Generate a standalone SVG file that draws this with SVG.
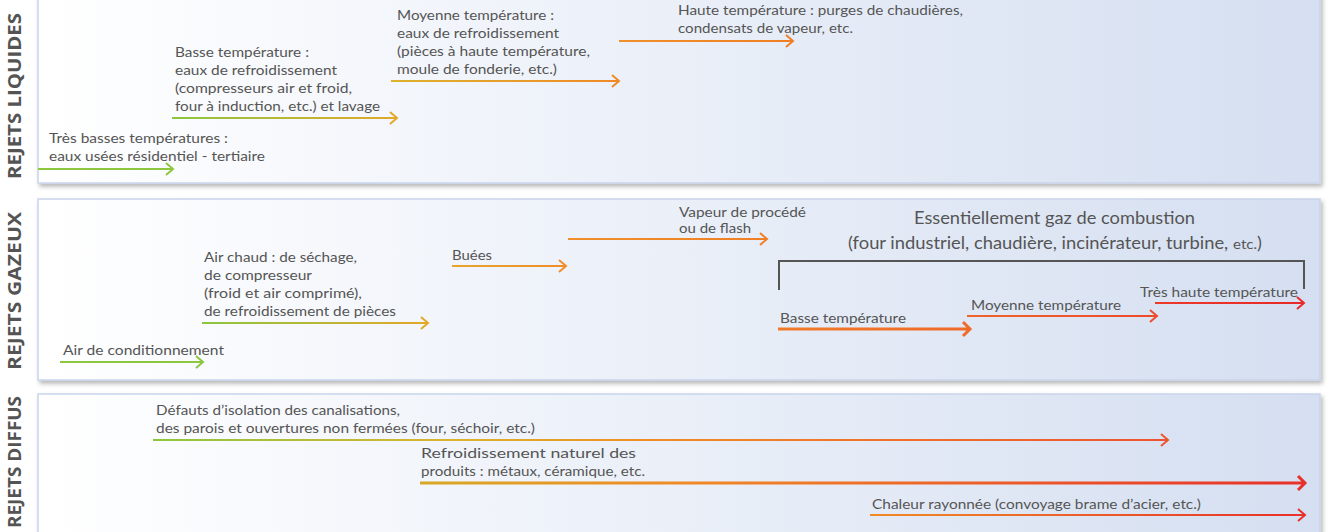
<svg xmlns="http://www.w3.org/2000/svg" width="1328" height="532" viewBox="0 0 1328 532">
<defs>
<linearGradient id="panelFill" x1="0" y1="0" x2="1" y2="0">
<stop offset="0" stop-color="#ffffff"/>
<stop offset="1" stop-color="#d5dff1"/>
</linearGradient>
<filter id="shadow" x="-2%" y="-5%" width="104%" height="115%">
<feDropShadow dx="2" dy="3" stdDeviation="2" flood-color="#000" flood-opacity="0.28"/>
</filter>
<linearGradient id="gG" x1="0" y1="0" x2="1" y2="0"><stop offset="0" stop-color="#8dc63f"/><stop offset="1" stop-color="#8dc63f"/></linearGradient>
<linearGradient id="gGY" x1="0" y1="0" x2="1" y2="0"><stop offset="0" stop-color="#8dc63f"/><stop offset="1" stop-color="#e3a82a"/></linearGradient>
<linearGradient id="gYO" x1="0" y1="0" x2="1" y2="0"><stop offset="0" stop-color="#dcb22e"/><stop offset="1" stop-color="#f08a26"/></linearGradient>
<linearGradient id="gO" x1="0" y1="0" x2="1" y2="0"><stop offset="0" stop-color="#f0902a"/><stop offset="1" stop-color="#f07e24"/></linearGradient>
<linearGradient id="gYO2" x1="0" y1="0" x2="1" y2="0"><stop offset="0" stop-color="#e6a52e"/><stop offset="1" stop-color="#f08d28"/></linearGradient>
<linearGradient id="gOR1" x1="0" y1="0" x2="1" y2="0"><stop offset="0" stop-color="#f07a28"/><stop offset="1" stop-color="#f06a2a"/></linearGradient>
<linearGradient id="gOR2" x1="0" y1="0" x2="1" y2="0"><stop offset="0" stop-color="#f0642a"/><stop offset="1" stop-color="#ee4a2c"/></linearGradient>
<linearGradient id="gR" x1="0" y1="0" x2="1" y2="0"><stop offset="0" stop-color="#ec3a2a"/><stop offset="1" stop-color="#e8282a"/></linearGradient>
<linearGradient id="gD1" x1="0" y1="0" x2="1" y2="0"><stop offset="0" stop-color="#8dc63f"/><stop offset="0.3" stop-color="#dcb22e"/><stop offset="0.5" stop-color="#f08a26"/><stop offset="1" stop-color="#ee5430"/></linearGradient>
<linearGradient id="gD2" x1="0" y1="0" x2="1" y2="0"><stop offset="0" stop-color="#d8a824"/><stop offset="0.3" stop-color="#f08a26"/><stop offset="1" stop-color="#e8302a"/></linearGradient>
<linearGradient id="gD3" x1="0" y1="0" x2="1" y2="0"><stop offset="0" stop-color="#f08a26"/><stop offset="1" stop-color="#e8302a"/></linearGradient>
</defs>
<style>
.panel{fill:url(#panelFill);stroke:#c9d5ec;stroke-width:1.5;filter:url(#shadow)}
.side{font-family:"Open Sans","Liberation Sans",sans-serif;font-weight:bold;font-size:17px;fill:#545454;text-anchor:middle}
.t{font-family:Lato,"Open Sans","Liberation Sans",sans-serif;font-size:14px;fill:#555555}
.h{font-family:Lato,"Open Sans","Liberation Sans",sans-serif;font-size:17px;fill:#555555}
.a{fill:none;stroke-width:2;stroke-linecap:butt;stroke-linejoin:miter}
.a3{stroke-width:3}
.br{fill:none;stroke:#555555;stroke-width:2}
</style>

<rect width="1328" height="532" fill="#ffffff"/>

<g id="panel-liquides">
<rect class="panel" x="38" y="-6" width="1282" height="189"/>
<text class="side" transform="translate(21,96) rotate(-90)" textLength="166" lengthAdjust="spacingAndGlyphs">REJETS LIQUIDES</text>
</g>
<g id="panel-gazeux">
<rect class="panel" x="38" y="199" width="1282" height="181"/>
<text class="side" transform="translate(21,291) rotate(-90)" textLength="158" lengthAdjust="spacingAndGlyphs">REJETS GAZEUX</text>
</g>
<g id="panel-diffus">
<rect class="panel" x="38" y="394" width="1282" height="150"/>
<text class="side" transform="translate(21,462) rotate(-90)" textLength="132" lengthAdjust="spacingAndGlyphs">REJETS DIFFUS</text>
</g>

<g id="n-tres-basses">
<text class="t" x="49" y="143" textLength="179" lengthAdjust="spacingAndGlyphs">Très basses températures :</text>
<text class="t" x="49" y="161" textLength="216" lengthAdjust="spacingAndGlyphs">eaux usées résidentiel - tertiaire</text>
</g>
<g id="n-basse-liq">
<text class="t" x="175" y="57" textLength="134" lengthAdjust="spacingAndGlyphs">Basse température :</text>
<text class="t" x="175" y="75" textLength="162" lengthAdjust="spacingAndGlyphs">eaux de refroidissement</text>
<text class="t" x="175" y="93" textLength="177" lengthAdjust="spacingAndGlyphs">(compresseurs air et froid,</text>
<text class="t" x="175" y="111" textLength="205" lengthAdjust="spacingAndGlyphs">four à induction, etc.) et lavage</text>
</g>
<g id="n-moyenne-liq">
<text class="t" x="397" y="20" textLength="157" lengthAdjust="spacingAndGlyphs">Moyenne température :</text>
<text class="t" x="397" y="38" textLength="162" lengthAdjust="spacingAndGlyphs">eaux de refroidissement</text>
<text class="t" x="397" y="56" textLength="193" lengthAdjust="spacingAndGlyphs">(pièces à haute température,</text>
<text class="t" x="397" y="74" textLength="160" lengthAdjust="spacingAndGlyphs">moule de fonderie, etc.)</text>
</g>
<g id="n-haute-liq">
<text class="t" x="678" y="15" textLength="285" lengthAdjust="spacingAndGlyphs">Haute température : purges de chaudières,</text>
<text class="t" x="678" y="33" textLength="175" lengthAdjust="spacingAndGlyphs">condensats de vapeur, etc.</text>
</g>

<g id="n-air-cond">
<text class="t" x="63" y="355" textLength="161" lengthAdjust="spacingAndGlyphs">Air de conditionnement</text>
</g>
<g id="n-air-chaud">
<text class="t" x="204" y="262" textLength="153" lengthAdjust="spacingAndGlyphs">Air chaud : de séchage,</text>
<text class="t" x="204" y="280" textLength="108" lengthAdjust="spacingAndGlyphs">de compresseur</text>
<text class="t" x="204" y="298" textLength="158" lengthAdjust="spacingAndGlyphs">(froid et air comprimé),</text>
<text class="t" x="204" y="316" textLength="192" lengthAdjust="spacingAndGlyphs">de refroidissement de pièces</text>
</g>
<g id="n-buees">
<text class="t" x="452" y="260" textLength="40" lengthAdjust="spacingAndGlyphs">Buées</text>
</g>
<g id="n-vapeur">
<text class="t" x="679" y="217" textLength="127" lengthAdjust="spacingAndGlyphs">Vapeur de procédé</text>
<text class="t" x="679" y="233" textLength="72" lengthAdjust="spacingAndGlyphs">ou de flash</text>
</g>
<g id="n-combustion">
<text class="h" x="914" y="224" textLength="281" lengthAdjust="spacingAndGlyphs">Essentiellement gaz de combustion</text>
<text class="h" x="848" y="249" textLength="414" lengthAdjust="spacingAndGlyphs">(four industriel, chaudière, incinérateur, turbine, <tspan font-size="14">etc.</tspan>)</text>
<path class="br" d="M779,290 V261 H1304 V289"/>
</g>
<g id="n-basse-gaz">
<text class="t" x="780" y="323" textLength="126" lengthAdjust="spacingAndGlyphs">Basse température</text>
</g>
<g id="n-moyenne-gaz">
<text class="t" x="971" y="310" textLength="150" lengthAdjust="spacingAndGlyphs">Moyenne température</text>
</g>
<g id="n-tres-haute-gaz">
<text class="t" x="1140" y="297" textLength="158" lengthAdjust="spacingAndGlyphs">Très haute température</text>
</g>

<g id="n-defauts">
<text class="t" x="156" y="415" textLength="244" lengthAdjust="spacingAndGlyphs">Défauts d’isolation des canalisations,</text>
<text class="t" x="156" y="433" textLength="379" lengthAdjust="spacingAndGlyphs">des parois et ouvertures non fermées (four, séchoir, etc.)</text>
</g>
<g id="n-refroid-nat">
<text class="t" x="421" y="458" textLength="215" lengthAdjust="spacingAndGlyphs">Refroidissement naturel des</text>
<text class="t" x="421" y="476" textLength="224" lengthAdjust="spacingAndGlyphs">produits : métaux, céramique, etc.</text>
</g>
<g id="n-chaleur">
<text class="t" x="872" y="509" textLength="329" lengthAdjust="spacingAndGlyphs">Chaleur rayonnée (convoyage brame d’acier, etc.)</text>
</g>

<g id="connectors">
<path class="a" stroke="url(#gG)" d="M38,169 H173 M166,163 L173,169 L166,175"/>
<path class="a" stroke="url(#gGY)" d="M172,118 H397 M390,112 L397,118 L390,124"/>
<path class="a" stroke="url(#gYO)" d="M391,81 H619 M612,75 L619,81 L612,87"/>
<path class="a" stroke="url(#gO)" d="M619,41 H793 M786,35 L793,41 L786,47"/>

<path class="a" stroke="url(#gG)" d="M60,362 H203 M196,356 L203,362 L196,368"/>
<path class="a" stroke="url(#gGY)" d="M202,323 H428 M421,317 L428,323 L421,329"/>
<path class="a" stroke="url(#gYO2)" d="M452,266 H566 M559,260 L566,266 L559,272"/>
<path class="a" stroke="url(#gO)" d="M568,239 H767 M760,233 L767,239 L760,245"/>
<path class="a a3" stroke="url(#gOR1)" d="M778,329 H970 M963,322 L970,329 L963,336"/>
<path class="a" stroke="url(#gOR2)" d="M967,316 H1157 M1150,310 L1157,316 L1150,322"/>
<path class="a" stroke="url(#gR)" d="M1155,303 H1304 M1297,297 L1304,303 L1297,309"/>

<path class="a" stroke="url(#gD1)" d="M153,440 H1168 M1161,434 L1168,440 L1161,446"/>
<path class="a a3" stroke="url(#gD2)" d="M420,483 H1305 M1298,476 L1305,483 L1298,490"/>
<path class="a" stroke="url(#gD3)" d="M870,515 H1305 M1298,509 L1305,515 L1298,521"/>
</g>
</svg>
